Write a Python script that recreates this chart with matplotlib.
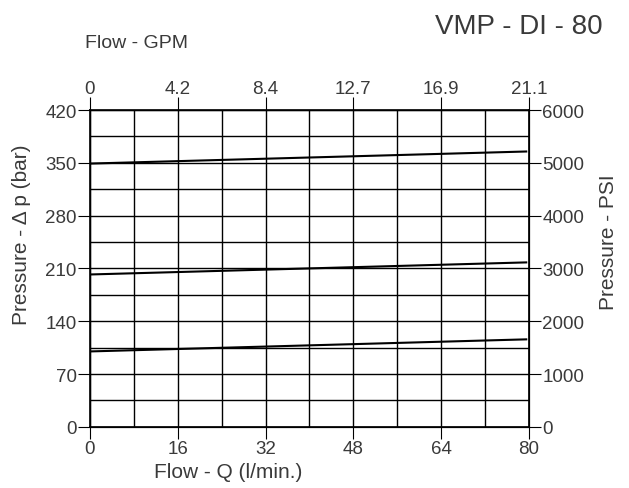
import matplotlib
matplotlib.use("Agg")
import matplotlib.pyplot as plt

# dados
flow_lpm = [0, 79.5]
curve_low = [100, 116]
curve_mid = [202, 218]
curve_high = [349, 365]

x_ticks = [0, 16, 32, 48, 64, 80]
gpm_labels = ["0", "4.2", "8.4", "12.7", "16.9", "21.1"]
bar_ticks = [0, 70, 140, 210, 280, 350, 420]
psi_labels = ["0", "1000", "2000", "3000", "4000", "5000", "6000"]

plt.rcParams["font.family"] = ["Liberation Sans", "DejaVu Sans"]
txt = "#3a3a3a"

fig = plt.figure(figsize=(6.29, 4.89), dpi=100)
ax = fig.add_axes([0.143, 0.125, 0.698, 0.648])

# grade
for gx in range(0, 81, 8):
    ax.axvline(gx, color="black", lw=1.0, zorder=1)
for gy in range(0, 421, 35):
    ax.axhline(gy, color="black", lw=1.0, zorder=1)

for curve in (curve_low, curve_mid, curve_high):
    ax.plot(flow_lpm, curve, color="black", lw=1.5, zorder=3)

ax.set_xlim(0, 80)
ax.set_ylim(0, 420)
ax.set_xticks(x_ticks)
ax.set_yticks(bar_ticks)
ax.tick_params(direction="out", length=8.5, width=0.8, labelsize=13.5,
               colors="black", labelcolor=txt, pad=1)
for s in ax.spines.values():
    s.set_linewidth(1.2)

# eixo superior (GPM)
top = ax.twiny()
top.set_xlim(ax.get_xlim())
top.set_xticks(x_ticks)
top.set_xticklabels(gpm_labels)
top.tick_params(direction="out", length=9.5, width=0.8, labelsize=13.5,
                colors="black", labelcolor=txt, pad=0)

# eixo direito (PSI)
right = ax.twinx()
right.set_ylim(ax.get_ylim())
right.set_yticks(bar_ticks)
right.set_yticklabels(psi_labels)
right.tick_params(direction="out", length=8.5, width=0.8, labelsize=13.5,
                  colors="black", labelcolor=txt, pad=1)

# rótulos posicionados como no original
fig.text(228 / 629, 1 - 478 / 489, "Flow - Q (l/min.)", fontsize=15, color=txt,
         ha="center", va="baseline")
fig.text(22 / 629, 1 - 235 / 489, "Pressure - Δ p (bar)", fontsize=15, color=txt,
         ha="center", va="center", rotation=90)
fig.text(608 / 629, 1 - 242 / 489, "Pressure - PSI", fontsize=15, color=txt,
         ha="center", va="center", rotation=90)
fig.text(85 / 629, 1 - 48 / 489, "Flow - GPM", fontsize=14, color=txt, va="baseline")
fig.text(603 / 629, 1 - 34 / 489, "VMP - DI - 80", fontsize=20, color=txt,
         ha="right", va="baseline")

fig.savefig("out.png", dpi=100)
